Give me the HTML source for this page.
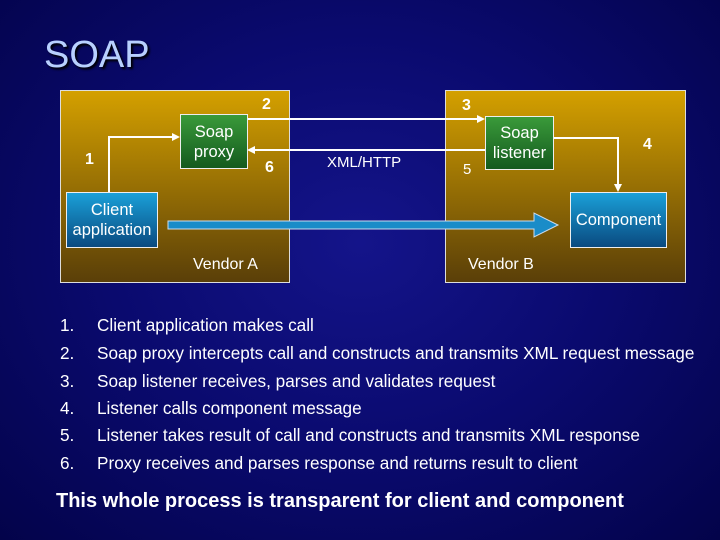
<!DOCTYPE html>
<html><head><meta charset="utf-8"><style>
body{margin:0;width:720px;height:540px;overflow:hidden;background:radial-gradient(ellipse at 50% 45%,#14148a 0%,#0a0a6e 50%,#03034a 100%);font-family:"Liberation Sans",sans-serif;position:relative;color:#fff}
.a{position:absolute;white-space:nowrap}
.vb{position:absolute;border:1px solid #ddd;background:linear-gradient(#d4a000,#5a3f08)}
.box{position:absolute;border:1px solid #eee;display:flex;align-items:center;justify-content:center;text-align:center;font-size:16.5px;line-height:20px;color:#fff}
.g{background:linear-gradient(#3a9a3a,#145a1e)}
.bl{background:linear-gradient(#1aa0d8,#0a4a80)}
.n{font-size:16px;font-weight:bold}
.li{position:absolute;font-size:17.2px;left:60px}
.li span{position:absolute;left:37px;white-space:nowrap}
</style></head><body>
<div class="a" style="left:44px;top:34px;font-size:38px;color:#b8d0ff;text-shadow:2px 2px 2px #000">SOAP</div>
<div class="vb" style="left:60px;top:90px;width:228px;height:191px"></div>
<div class="vb" style="left:445px;top:90px;width:239px;height:191px"></div>
<svg class="a" style="left:0;top:0" width="720" height="540">
<g stroke="#fff" stroke-width="2" fill="none">
<polyline points="109,192 109,137 174,137"/>
<line x1="247" y1="119" x2="479" y2="119"/>
<line x1="485" y1="150" x2="254" y2="150"/>
<polyline points="553,138 618,138 618,186"/>
</g>
<g fill="#fff">
<polygon points="180,137 172,133 172,141"/>
<polygon points="485,119 477,115 477,123"/>
<polygon points="247,150 255,146 255,154"/>
<polygon points="618,192 614,184 622,184"/>
</g>
<polygon points="168,221 534,221 534,213 558,225 534,237 534,229 168,229" fill="#1a8cc8" stroke="#cde" stroke-width="1"/>
</svg>
<div class="box g" style="left:180px;top:114px;width:66px;height:53px">Soap<br>proxy</div>
<div class="box g" style="left:485px;top:116px;width:67px;height:52px">Soap<br>listener</div>
<div class="box bl" style="left:66px;top:192px;width:90px;height:54px">Client<br>application</div>
<div class="box bl" style="left:570px;top:192px;width:95px;height:54px">Component</div>
<div class="a n" style="left:262px;top:96px">2</div>
<div class="a n" style="left:462px;top:97px">3</div>
<div class="a n" style="left:85px;top:151px">1</div>
<div class="a n" style="left:265px;top:159px">6</div>
<div class="a" style="left:327px;top:154px;font-size:15px">XML/HTTP</div>
<div class="a" style="left:463px;top:161px;font-size:15px">5</div>
<div class="a n" style="left:643px;top:136px">4</div>
<div class="a" style="left:193px;top:256px;font-size:16px">Vendor A</div>
<div class="a" style="left:468px;top:256px;font-size:16px">Vendor B</div>
<div class="li" style="top:315px">1.<span>Client application makes call</span></div>
<div class="li" style="top:343px">2.<span>Soap proxy intercepts call and constructs and transmits XML request message</span></div>
<div class="li" style="top:371px">3.<span>Soap listener receives, parses and validates request</span></div>
<div class="li" style="top:398px">4.<span>Listener calls component message</span></div>
<div class="li" style="top:425px">5.<span>Listener takes result of call and constructs and transmits XML response</span></div>
<div class="li" style="top:453px">6.<span>Proxy receives and parses response and returns result to client</span></div>
<div class="a" style="left:56px;top:490px;font-size:20px;font-weight:bold">This whole process is transparent for client and component</div>
</body></html>
